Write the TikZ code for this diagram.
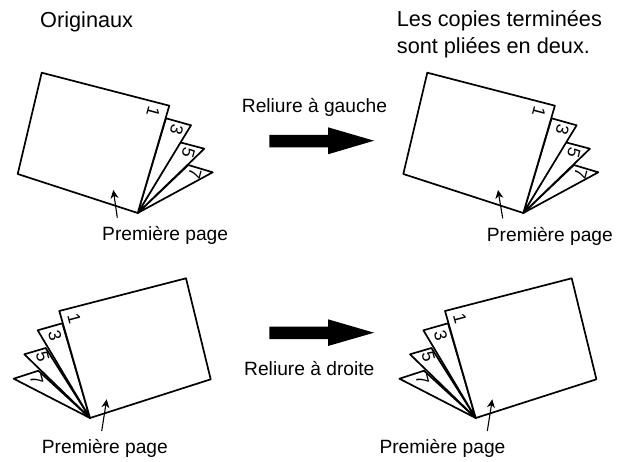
\documentclass[tikz,border=0pt]{standalone}
\usepackage{fontspec}
\setmainfont{Liberation Sans}
\usetikzlibrary{arrows.meta}
\tikzset{
  x=1pt,y=-1pt,
  sheet/.style={draw=black,fill=white,line width=1.7pt,line join=round},
  num/.style={font=\fontsize{17.5}{17.5}\selectfont,inner sep=0pt},
  lab/.style={font=\fontsize{19.2}{27}\selectfont,inner sep=0pt,anchor=base west},
  biglab/.style={font=\fontsize{21.7}{27}\selectfont,inner sep=0pt,anchor=base west},
  fine/.style={draw=black,line width=1.1pt,-{Stealth[length=8.5pt,width=8pt]}},
  bigarrow/.style={fill=black,draw=none},
}
\newcommand{\bookL}[3]{% apex x, apex y, suffix
\begin{scope}[shift={(#1,#2)}]
  \coordinate (a#3) at (0,0);
  \draw[sheet] (a#3) -- (50.6,-48) -- (75,-40.7) -- cycle;
  \draw[sheet] (a#3) -- (42.3,-70.7) -- (66.6,-64.3) -- cycle;
  \draw[sheet] (a#3) -- (28.3,-94.7) -- (53.3,-87.7) -- cycle;
  \draw[sheet] (a#3) -- (-120,-39) -- (-96,-140.3) -- (31.6,-107.3) -- cycle;
  \node[num,rotate=-105] (one#3) at (15.6,-101.3) {1};
  \node[num,rotate=-105] (three#3) at (39,-83.7) {3};
  \node[num,rotate=-105] (five#3) at (50.6,-60.3) {5};
  \node[num,rotate=-105] (seven#3) at (57.3,-39.7) {7};
\end{scope}}
\newcommand{\bookR}[3]{%
\begin{scope}[shift={(#1,#2)}]
  \coordinate (a#3) at (0,0);
  \draw[sheet] (a#3) -- (-76.3,-39.3) -- (-51.7,-47.3) -- cycle;
  \draw[sheet] (a#3) -- (-65.7,-63.7) -- (-44.3,-70) -- cycle;
  \draw[sheet] (a#3) -- (-52.3,-87.7) -- (-27.7,-94.7) -- cycle;
  \draw[sheet] (a#3) -- (120.7,-38.7) -- (96,-139.7) -- (-30.7,-107) -- cycle;
  \node[num,rotate=-75] (one#3) at (-15.7,-99) {1};
  \node[num,rotate=-75] (three#3) at (-35,-82.3) {3};
  \node[num,rotate=-75] (five#3) at (-47.3,-61.3) {5};
  \node[num,rotate=-75] (seven#3) at (-53.3,-38) {7};
\end{scope}}
\begin{document}
\begin{tikzpicture}
\useasboundingbox (0,0) rectangle (617,462);
\fill[white] (0,0) rectangle (617,462);
\bookL{137.7}{213}{A}
\bookL{523.3}{213}{B}
\bookR{90}{418}{C}
\bookR{475.7}{418}{D}
\node[biglab] (t1) at (40,28) {Originaux};
\node[biglab] (t2a) at (396.7,27) {Les copies terminées};
\node[biglab] (t2b) at (396.7,54) {sont pliées en deux.};
\node[lab] (t3) at (241.7,112.7) {Reliure à gauche};
\node[lab] (t4) at (244,375.7) {Reliure à droite};
\node[lab] (pa) at (102,240) {Première page};
\node[lab] (pb) at (486.7,241.7) {Première page};
\node[lab] (pc) at (41.7,453) {Première page};
\node[lab] (pd) at (379.3,453) {Première page};
\coordinate (fa) at (117.3,217.7);\coordinate (ga) at (113.3,190);
\coordinate (fb) at (502.7,218.3);\coordinate (gb) at (498,190);
\coordinate (fc) at (101.7,431);\coordinate (gc) at (106.7,399.3);
\coordinate (fd) at (487.3,431);\coordinate (gd) at (492.3,399.3);
\draw[fine] (fa) -- (ga);
\draw[fine] (fb) -- (gb);
\draw[fine] (fc) -- (gc);
\draw[fine] (fd) -- (gd);
\fill[bigarrow] (269.3,135) -- (328,135) -- (328,127.3) -- (374,140.7) -- (328,154.3) -- (328,147.3) -- (269.3,147.3) -- cycle;
\fill[bigarrow] (269.3,326.7) -- (328,326.7) -- (328,319.3) -- (374,332.7) -- (328,346) -- (328,339) -- (269.3,339) -- cycle;
\end{tikzpicture}
\end{document}
